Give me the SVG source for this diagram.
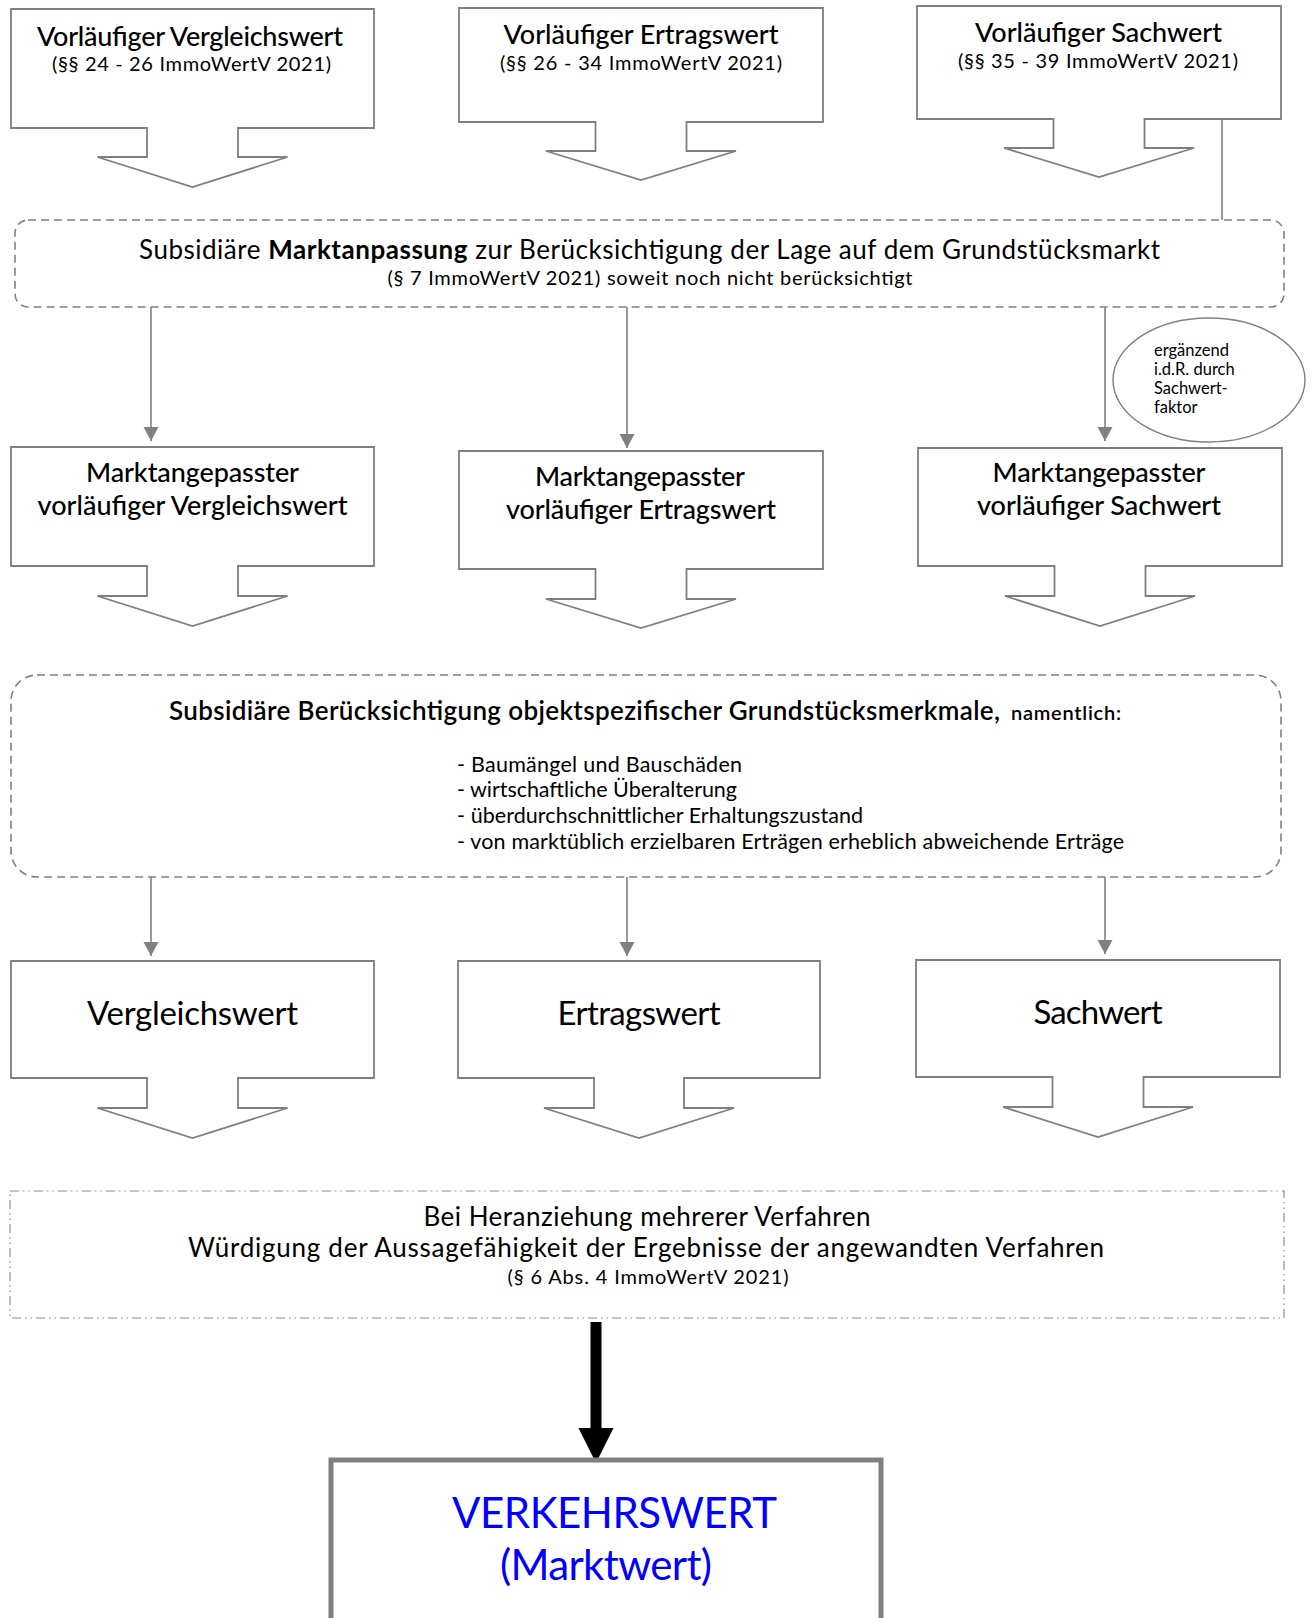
<svg xmlns="http://www.w3.org/2000/svg" width="1312" height="1618" viewBox="0 0 1312 1618">
<defs>
<marker id="ah" markerWidth="16" markerHeight="16" refX="14" refY="7.5" orient="auto" markerUnits="userSpaceOnUse">
<path d="M0,0 L14,7.5 L0,15 Z" fill="#808080"/>
</marker>
</defs>
<style>
.box{fill:#fff;stroke:#7f7f7f;stroke-width:1.8}
.dash{fill:#fff;stroke:#808080;stroke-width:1.6;stroke-dasharray:8 5}
.dd{fill:#fff;stroke:#8a8a8a;stroke-width:1.2;stroke-dasharray:9 4 1.5 4 1.5 4}
.conn{stroke:#808080;stroke-width:1.6;fill:none}
text{font-family:Lato,"Liberation Sans",sans-serif;fill:#000}
.c{text-anchor:middle}
.h{font-size:27px;font-weight:500}
.s{font-size:20px}
.m{font-size:26px}
.big{font-size:33px}
.b{font-weight:700}
.sb{font-weight:600}
.l{font-size:21.5px}
.e{font-size:16.5px}
.v{font-size:42px;fill:#0000ff}
</style>

<g id="connectors">
<line class="conn" x1="1222" y1="119" x2="1222" y2="220"/>
<line class="conn" x1="151" y1="307" x2="151" y2="441" marker-end="url(#ah)"/>
<line class="conn" x1="627" y1="307" x2="627" y2="448" marker-end="url(#ah)"/>
<line class="conn" x1="1105" y1="302" x2="1105" y2="441" marker-end="url(#ah)"/>
<line class="conn" x1="151" y1="877" x2="151" y2="956" marker-end="url(#ah)"/>
<line class="conn" x1="627" y1="877" x2="627" y2="956" marker-end="url(#ah)"/>
<line class="conn" x1="1105" y1="877" x2="1105" y2="954" marker-end="url(#ah)"/>
<polygon points="590.5,1322 601.5,1322 601.5,1428 613.5,1428 596,1463 578.5,1428 590.5,1428" fill="#000"/>
</g>

<g id="vorl-vergleichswert">
<path class="box" d="M11,9 H374 V128 H238 V157 H287.5 L192.5,187 L97.5,157 H147 V128 H11 Z"/>
<text class="c h" x="190" y="46" textLength="306">Vorläufiger Vergleichswert</text>
<text class="c s" x="191.5" y="71" textLength="279">(§§ 24 - 26 ImmoWertV 2021)</text>
</g>
<g id="vorl-ertragswert">
<path class="box" d="M459,8 H823 V122 H686.5 V151 H736 L641,180 L546,151 H595.5 V122 H459 Z"/>
<text class="c h" x="641" y="44" textLength="275">Vorläufiger Ertragswert</text>
<text class="c s" x="641" y="70" textLength="282">(§§ 26 - 34 ImmoWertV 2021)</text>
</g>
<g id="vorl-sachwert">
<path class="box" d="M917,6 H1281 V119 H1144.5 V148 H1194 L1099,177 L1004,148 H1053.5 V119 H917 Z"/>
<text class="c h" x="1098.5" y="42" textLength="247">Vorläufiger Sachwert</text>
<text class="c s" x="1098" y="68" textLength="280">(§§ 35 - 39 ImmoWertV 2021)</text>
</g>

<g id="marktanpassung">
<rect class="dash" x="15" y="220" width="1269" height="87" rx="13"/>
<text class="c m" x="649.5" y="259" textLength="1021">Subsidiäre <tspan class="b">Marktanpassung</tspan> zur Berücksichtigung der Lage auf dem Grundstücksmarkt</text>
<text class="c s" x="650" y="285" textLength="525">(§ 7 ImmoWertV 2021) soweit noch nicht berücksichtigt</text>
</g>

<g id="hinweis-sachwertfaktor">
<ellipse cx="1209" cy="380" rx="96" ry="62" fill="#fff" stroke="#808080" stroke-width="1.4"/>
<text class="e" x="1154" y="356">ergänzend</text>
<text class="e" x="1154" y="375">i.d.R. durch</text>
<text class="e" x="1154" y="394">Sachwert-</text>
<text class="e" x="1154" y="413">faktor</text>
</g>

<g id="ma-vergleichswert">
<path class="box" d="M11,447 H374 V566 H238 V596 H287.5 L192.5,626 L97.5,596 H147 V566 H11 Z"/>
<text class="c h" x="192.5" y="482" textLength="213">Marktangepasster</text>
<text class="c h" x="192.5" y="515" textLength="310">vorläufiger Vergleichswert</text>
</g>
<g id="ma-ertragswert">
<path class="box" d="M459,451 H823 V569 H686.5 V599 H736 L641,628 L546,599 H595.5 V569 H459 Z"/>
<text class="c h" x="640" y="486" textLength="210">Marktangepasster</text>
<text class="c h" x="641" y="519" textLength="270">vorläufiger Ertragswert</text>
</g>
<g id="ma-sachwert">
<path class="box" d="M918,448 H1282 V566 H1145.5 V596 H1195 L1100,626 L1005,596 H1054.5 V566 H918 Z"/>
<text class="c h" x="1099" y="482" textLength="213">Marktangepasster</text>
<text class="c h" x="1099" y="515" textLength="244">vorläufiger Sachwert</text>
</g>

<g id="objektmerkmale">
<rect class="dash" x="11" y="675" width="1270" height="202" rx="26"/>
<text class="sb" x="169" y="720" style="font-size:26px" textLength="831">Subsidiäre Berücksichtigung objektspezifischer Grundstücksmerkmale,</text>
<text class="sb" x="1011" y="720" style="font-size:20px" textLength="110">namentlich:</text>
<text class="l" x="457" y="772" textLength="285">- Baumängel und Bauschäden</text>
<text class="l" x="457" y="797" textLength="280">- wirtschaftliche Überalterung</text>
<text class="l" x="457" y="823" textLength="406">- überdurchschnittlicher Erhaltungszustand</text>
<text class="l" x="457" y="849" textLength="667">- von marktüblich erzielbaren Erträgen erheblich abweichende Erträge</text>
</g>

<g id="vergleichswert">
<path class="box" d="M11,961 H374 V1078 H238 V1108 H287.5 L192.5,1138 L97.5,1108 H147 V1078 H11 Z"/>
<text class="c big" x="192.5" y="1025" textLength="211">Vergleichswert</text>
</g>
<g id="ertragswert">
<path class="box" d="M458,961 H820 V1078 H684 V1108 H734 L639,1138 L544,1108 H594 V1078 H458 Z"/>
<text class="c big" x="639" y="1025" textLength="163">Ertragswert</text>
</g>
<g id="sachwert">
<path class="box" d="M916,960 H1280 V1077 H1143.5 V1107 H1193 L1098,1137 L1003,1107 H1052.5 V1077 H916 Z"/>
<text class="c big" x="1098" y="1024" textLength="129">Sachwert</text>
</g>

<g id="wuerdigung">
<rect class="dd" x="10" y="1191" width="1274" height="127"/>
<text class="c m" x="647" y="1226" textLength="447">Bei Heranziehung mehrerer Verfahren</text>
<text class="c m" x="646" y="1257" textLength="916">Würdigung der Aussagefähigkeit der Ergebnisse der angewandten Verfahren</text>
<text class="c s" x="648" y="1284" textLength="281">(§ 6 Abs. 4 ImmoWertV 2021)</text>
</g>

<g id="verkehrswert">
<rect x="331" y="1460" width="550" height="200" fill="#fff" stroke="#808080" stroke-width="5"/>
<text class="c v" x="614.5" y="1528" textLength="325">VERKEHRSWERT</text>
<text class="c v" x="606" y="1580" textLength="212">(Marktwert)</text>
</g>
</svg>
